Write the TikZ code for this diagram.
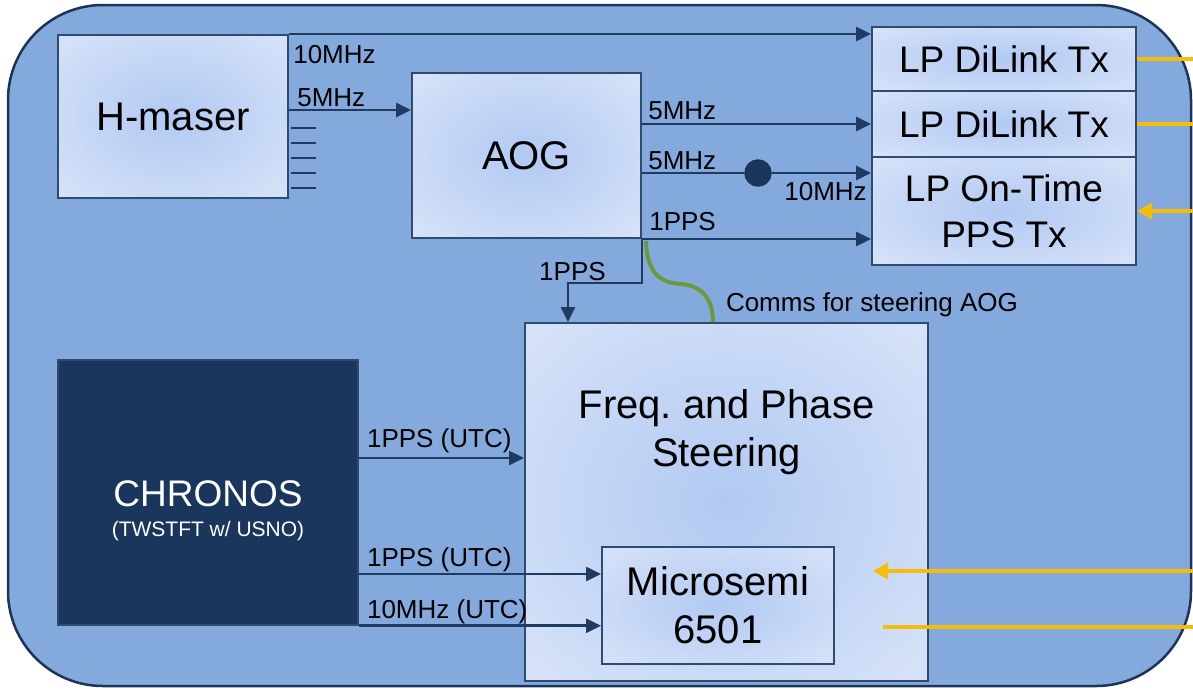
\documentclass[tikz,border=0pt]{standalone}
\usepackage{fontspec}
\setmainfont{Liberation Sans}
\usetikzlibrary{arrows.meta,positioning,calc}
\definecolor{panel}{HTML}{84A9DC}
\definecolor{navy}{HTML}{1C3458}
\definecolor{edge}{HTML}{2E4B70}
\definecolor{wire}{HTML}{1F3B62}
\definecolor{boxin}{HTML}{B1C9F2}
\definecolor{boxout}{HTML}{E9EFFB}
\definecolor{chron}{HTML}{1B365D}
\definecolor{gold}{HTML}{F5BC0C}
\definecolor{leaf}{HTML}{6B9A3A}
\pgfdeclareradialshading{boxglow}{\pgfpoint{0bp}{0bp}}{color(0bp)=(boxin); color(52bp)=(boxout); color(71bp)=(boxout)}
\newcommand{\bigtxt}{\fontsize{40}{48}\selectfont}
\newcommand{\midtxt}{\fontsize{37}{46}\selectfont}
\newcommand{\sigtxt}{\fontsize{26}{30}\selectfont}

\begin{document}
\begin{tikzpicture}[x=1pt,y=-1pt,>={Triangle[length=15pt,width=14pt]},
box/.style={draw=edge,line width=2pt,shading=boxglow,align=center,font=\bigtxt,inner sep=0pt},
txbox/.style={box,font=\midtxt,minimum width=264pt},
sig/.style={->,draw=wire,line width=2.6pt},
sync/.style={draw=gold,line width=4.8pt},
syncin/.style={sync,-{Triangle[length=15pt,width=16pt]}},
comms/.style={draw=leaf,line width=4pt},
lbl/.style={font=\sigtxt,inner sep=0pt,anchor=base west}]
\useasboundingbox (0,0) rectangle (1193,689);
\draw[navy,line width=2.5pt,fill=panel,rounded corners=95pt] (8,5) rectangle (1191,686);
\coordinate (rim) at (1193,0);

\node[box,minimum width=230pt,minimum height=163pt] (hmaser) at (173,116.5) {H-maser};
\node[box,minimum width=229pt,minimum height=165pt] (aog) at (526.5,155.5) {AOG};
\node[txbox,minimum height=64pt] (tx1) at (1004,59) {LP DiLink Tx};
\node[txbox,minimum height=66pt,below=-2pt of tx1] (tx2) {LP DiLink Tx};
\node[txbox,minimum height=108pt,below=-2pt of tx2] (pps) {LP On-Time\\PPS Tx};
\node[box,minimum width=403pt,minimum height=358pt] (freq) at (726.5,502) {};
\node[font=\bigtxt,align=center,inner sep=0pt] (freqlbl) at (726.5,432) {Freq.\ and Phase\\Steering};
\node[box,minimum width=232pt,minimum height=117pt] (msemi) at (718,605.5) {Microsemi\\6501};
\node[draw=edge,line width=1.5pt,fill=chron,minimum width=300pt,minimum height=265pt] (chronos) at (208,492.5) {};
\node[font=\midtxt,text=white,align=center,inner sep=0pt] (chronoslbl) at (208,511) {CHRONOS\\[-16pt]{\fontsize{21}{24}\selectfont(TWSTFT w/ USNO)}};
\node[circle,fill=chron,draw=navy,line width=1.5pt,minimum size=26pt,inner sep=0pt] (mix) at (758,173) {};

\foreach \ty in {128,143,158,173,188}
  \draw[wire,line width=1.3pt] (hmaser.east |- 0,\ty) ++(2,0) -- ++(25,0);

\draw[sig] (hmaser.north east) -- (hmaser.north east -| tx1.west)
  node[lbl,at start,xshift=3pt,yshift=-29pt] {10MHz};
\draw[sig] ([yshift=6.5pt]hmaser.east) -- ([yshift=6.5pt]hmaser.east -| aog.west)
  node[lbl,at start,xshift=7pt,yshift=4pt] {5MHz};
\draw[sig] (aog.east |- tx2.west) -- (tx2.west)
  node[lbl,at start,xshift=5pt,yshift=5pt] {5MHz};
\draw[sig,-] (aog.east |- mix) -- (mix.west)
  node[lbl,at start,xshift=5pt,yshift=4pt] {5MHz};
\draw[sig] (mix.east) -- (mix -| pps.west)
  node[lbl,anchor=base east,at end,xshift=-3pt,yshift=-27pt] {10MHz};
\draw[sig] (aog.south east) -- (aog.south east -| pps.west)
  node[lbl,at start,xshift=6pt,yshift=9pt] {1PPS};
\draw[sig] (aog.south east) -- ++(0,44) -| ([xshift=44pt]freq.north west)
  node[lbl,anchor=base,pos=0.47,yshift=3pt] {1PPS};
\draw[comms] ([shift={(4,2)}]aog.south east) .. controls +(1,35) and +(-18,-1) .. ++(35,43)
  .. controls +(25,2) and +(0,-18) .. ([xshift=189pt]freq.north west)
  node[lbl,at end,xshift=11pt,yshift=11pt,text=black] {Comms for steering AOG};

\draw[sig] ([yshift=34.5pt]chronos.east) -- ([yshift=34.5pt]chronos.east -| freq.west)
  node[lbl,at start,xshift=7pt,yshift=11pt] {1PPS (UTC)};
\draw[sig] ([yshift=-81.5pt]chronos.east) -- ([yshift=-81.5pt]chronos.east -| msemi.west)
  node[lbl,at start,xshift=7pt,yshift=7.5pt] {1PPS (UTC)};
\draw[sig] (chronos.south east) -- (chronos.south east -| msemi.west)
  node[lbl,at start,xshift=7pt,yshift=7.5pt] {10MHz (UTC)};

\draw[sync] (tx1.east) -- (tx1.east -| rim);
\draw[sync] (tx2.east) -- (tx2.east -| rim);
\draw[syncin] (pps.east -| rim) -- (pps.east);
\coordinate (refin) at (873,571);
\coordinate (refout) at (883,627);
\draw[syncin] (refin -| rim) -- (refin);
\draw[sync] (refout) -- (refout -| rim);
\end{tikzpicture}
\end{document}
